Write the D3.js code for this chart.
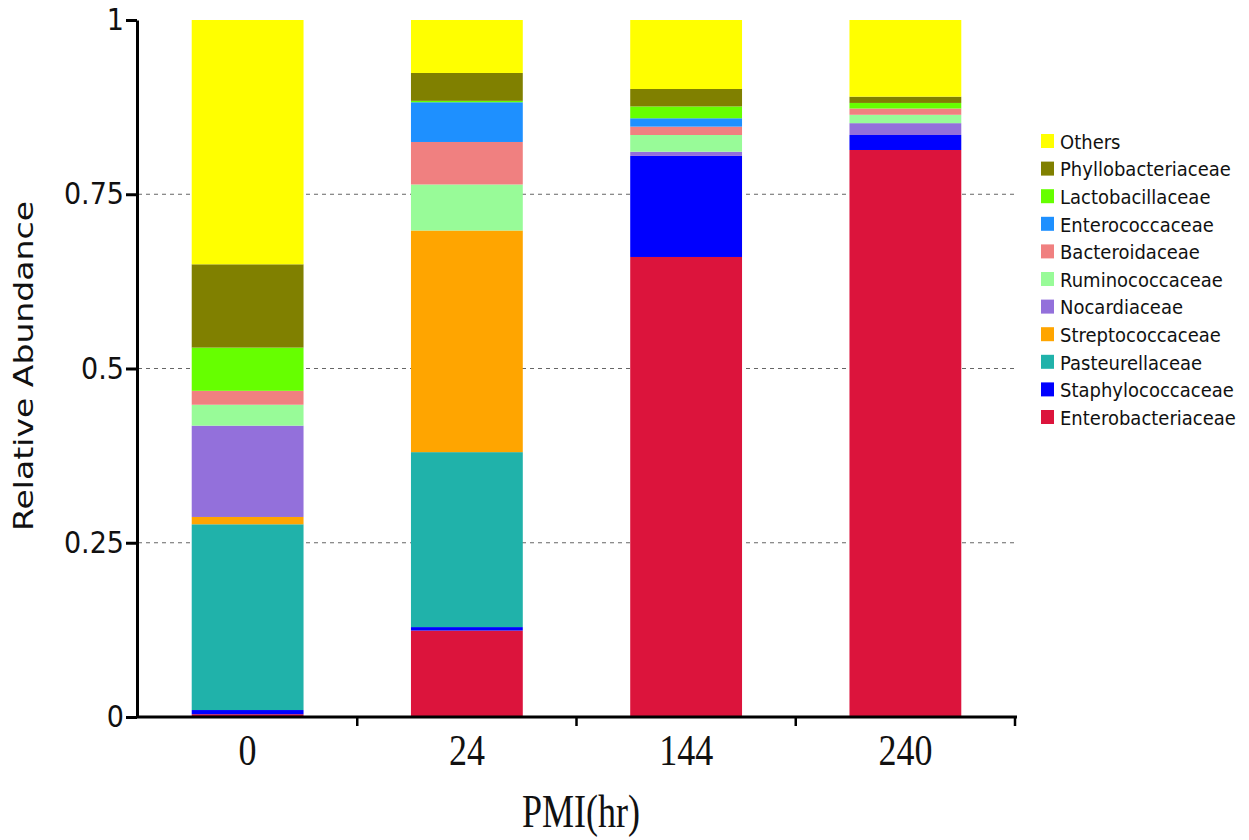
<!DOCTYPE html>
<html>
<head>
<meta charset="UTF-8">
<style>
body {
	margin: 0 ;
	background-color: #ffffff ;
}
.ylab, .legend text {
	font-family: "DejaVu Sans", sans-serif ;
}
.xlab {
	font-family: "Liberation Serif", "Times New Roman", serif ;
}
</style>
<title>Relative Abundance</title>
<script src="https://cdn.jsdelivr.net/npm/d3@7"></script>
</head>
<body>
<svg id="chart" width="1249" height="840"></svg>
<script type="text/javascript">

	// PMI time points
	const pmi = [ "0", "24", "144", "240" ] ;

	// families, bottom of the stack first
	const families = [ "Enterobacteriaceae", "Staphylococcaceae", "Pasteurellaceae", "Streptococcaceae",
		"Nocardiaceae", "Ruminococcaceae", "Bacteroidaceae", "Enterococcaceae",
		"Lactobacillaceae", "Phyllobacteriaceae", "Others" ] ;

	const Enterobacteriaceae = [ 0.004, 0.124, 0.660, 0.8135 ] ;
	const Staphylococcaceae  = [ 0.006, 0.005, 0.145, 0.0215 ] ;
	const Pasteurellaceae    = [ 0.2665, 0.251, 0, 0 ] ;
	const Streptococcaceae   = [ 0.0105, 0.318, 0, 0 ] ;
	const Nocardiaceae       = [ 0.131, 0, 0.006, 0.017 ] ;
	const Ruminococcaceae    = [ 0.030, 0.066, 0.024, 0.012 ] ;
	const Bacteroidaceae     = [ 0.020, 0.061, 0.012, 0.009 ] ;
	const Enterococcaceae    = [ 0, 0.057, 0.012, 0 ] ;
	const Lactobacillaceae   = [ 0.062, 0.002, 0.017, 0.008 ] ;
	const Phyllobacteriaceae = [ 0.1195, 0.040, 0.025, 0.009 ] ;
	const Others             = [ 0.3505, 0.076, 0.099, 0.110 ] ;

	const yTicks = [ 0, 0.25, 0.5, 0.75, 1 ] ;

	const colors = {
		Enterobacteriaceae: "#dc143c",
		Staphylococcaceae: "#0000ff",
		Pasteurellaceae: "#20b2aa",
		Streptococcaceae: "#ffa500",
		Nocardiaceae: "#9370db",
		Ruminococcaceae: "#98fb98",
		Bacteroidaceae: "#f08080",
		Enterococcaceae: "#1e90ff",
		Lactobacillaceae: "#66ff00",
		Phyllobacteriaceae: "#808000",
		Others: "#ffff00"
	} ;

	const series = { Enterobacteriaceae, Staphylococcaceae, Pasteurellaceae, Streptococcaceae,
		Nocardiaceae, Ruminococcaceae, Bacteroidaceae, Enterococcaceae,
		Lactobacillaceae, Phyllobacteriaceae, Others } ;

	// rows for d3.stack
	const rows = pmi.map( function(p, i) {
		const r = { pmi: p } ;
		families.forEach( function(f) { r[f] = series[f][i] } ) ;
		return r ;
	}) ;

	const svg = d3.select( "#chart" ) ;

	const x = d3.scaleBand()
		.domain( pmi )
		.range( [ 138, 1015 ] )
		.paddingInner( 0.49 )
		.paddingOuter( 0.245 ) ;

	const y = d3.scaleLinear()
		.domain( [ 0, 1 ] )
		.range( [ 717, 20 ] ) ;

	// dashed grid lines
	svg.append( "g" )
		.selectAll( "line" )
		.data( [ 0.25, 0.5, 0.75 ] )
		.enter()
			.append( "line" )
				.attr( "x1", 138 )
				.attr( "x2", 1015 )
				.attr( "y1", function(d) { return y(d) } )
				.attr( "y2", function(d) { return y(d) } )
				.attr( "stroke", "#666" )
				.attr( "stroke-width", 1 )
				.attr( "stroke-dasharray", "4,4" ) ;

	const stacked = d3.stack().keys( families )( rows ) ;

	svg.append( "g" )
		.selectAll( "g" )
		.data( stacked )
		.enter()
			.append( "g" )
				.attr( "fill", function(s) { return colors[s.key] } )
			.selectAll( "rect" )
			.data( function(s) { return s } )
			.enter()
				.append( "rect" )
					.attr( "x", function(d) { return x( d.data.pmi ) } )
					.attr( "width", x.bandwidth() )
					.attr( "y", function(d) { return y( d[1] ) } )
					.attr( "height", function(d) { return y( d[0] ) - y( d[1] ) } ) ;

	// y axis
	const yAxis = svg.append( "g" )
		.attr( "transform", "translate(137,0)" )
		.call( d3.axisLeft( y ).tickValues( yTicks ).tickFormat( d3.format( "" ) ).tickSize( 11 ).tickSizeOuter( 0 ) ) ;
	yAxis.select( ".domain" ).attr( "stroke", "#000" ).attr( "stroke-width", 3 ) ;
	yAxis.selectAll( ".tick line" ).attr( "stroke", "#000" ).attr( "stroke-width", 3 ) ;
	yAxis.selectAll( ".tick text" )
		.attr( "class", "ylab" )
		.attr( "font-family", null )
		.attr( "font-size", 27 )
		.attr( "fill", "#111" )
		.attr( "x", -13 )
		.attr( "transform", "scale(1,1.12)" ) ;

	// x axis, ticks sit between bars
	const xAxis = svg.append( "g" )
		.attr( "transform", "translate(0,717)" ) ;
	xAxis.append( "line" )
		.attr( "x1", 136 )
		.attr( "x2", 1017 )
		.attr( "stroke", "#000" )
		.attr( "stroke-width", 3 ) ;
	const bounds = pmi.map( function(p) { return x(p) - x.step() * x.paddingInner() / 2 } ) ;
	bounds.push( x.range()[1] ) ;
	xAxis.selectAll( "line.tk" )
		.data( bounds.slice( 1 ) )
		.enter()
			.append( "line" )
				.attr( "class", "tk" )
				.attr( "x1", function(d) { return d } )
				.attr( "x2", function(d) { return d } )
				.attr( "y1", 0 )
				.attr( "y2", 9 )
				.attr( "stroke", "#000" )
				.attr( "stroke-width", 2.5 ) ;
	xAxis.selectAll( "text" )
		.data( pmi )
		.enter()
			.append( "text" )
				.attr( "class", "xlab" )
				.attr( "text-anchor", "middle" )
				.attr( "font-size", 36 )
				.attr( "fill", "#111" )
				.attr( "transform", function(d) { return "translate(" + ( x(d) + x.bandwidth() / 2 ) + ",48) scale(1,1.25)" } )
				.text( function(d) { return d } ) ;

	// axis titles
	svg.append( "text" )
		.attr( "class", "xlab" )
		.attr( "text-anchor", "middle" )
		.attr( "font-size", 36 )
		.attr( "fill", "#111" )
		.attr( "transform", "translate(581,827) scale(1,1.3)" )
		.text( "PMI(hr)" ) ;

	svg.append( "text" )
		.attr( "class", "ylab" )
		.attr( "text-anchor", "middle" )
		.attr( "font-size", 27 )
		.attr( "fill", "#111" )
		.attr( "transform", "translate(33,366) rotate(-90)" )
		.attr( "textLength", 330 )
		.attr( "lengthAdjust", "spacingAndGlyphs" )
		.text( "Relative Abundance" ) ;

	// legend, top entry first
	const legend = svg.append( "g" )
		.attr( "class", "legend" )
		.selectAll( "g" )
		.data( families.slice().reverse() )
		.enter()
			.append( "g" )
				.attr( "transform", function(d, i) { return "translate(1041," + ( 141 + i * 27.6 ) + ")" } ) ;
	legend.append( "rect" )
		.attr( "x", 0 )
		.attr( "y", -7 )
		.attr( "width", 13 )
		.attr( "height", 14 )
		.attr( "fill", function(d) { return colors[d] } ) ;
	legend.append( "text" )
		.attr( "x", 19 )
		.attr( "y", 7 )
		.attr( "font-size", 18 )
		.attr( "fill", "#111" )
		.attr( "transform", "scale(1,1.12)" )
		.text( function(d) { return d } ) ;
</script>
</body>
</html>
